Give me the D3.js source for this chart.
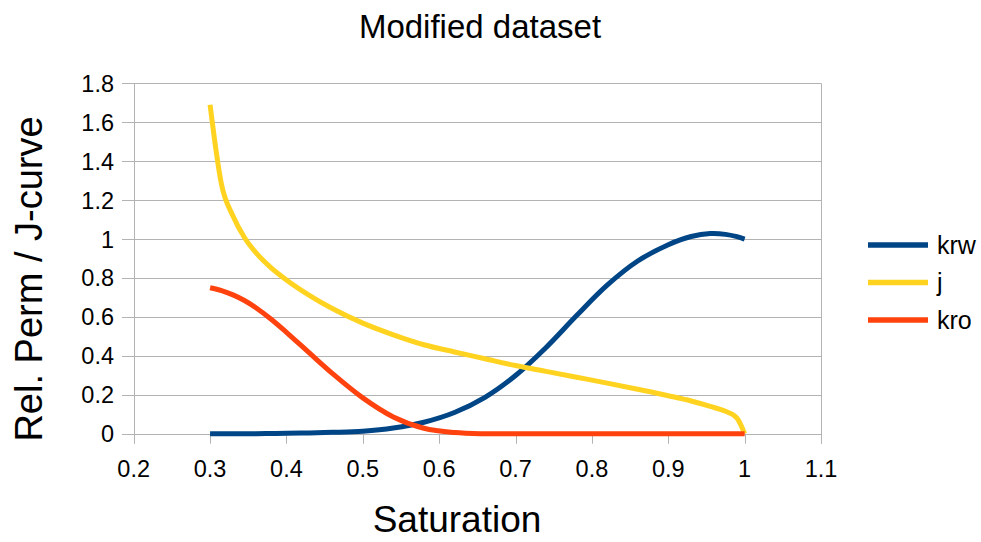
<!DOCTYPE html>
<html>
<head>
<meta charset="utf-8">
<script src="https://cdn.jsdelivr.net/npm/d3@7"></script>
<style>
  body { margin: 0; background: #fff; }
  text { font-family: "Liberation Sans", Arial, sans-serif; fill: #000; }
</style>
</head>
<body>
<svg id="chart" width="981" height="542"></svg>
<script>
// saturation points shared by the three series
var saturation = [0.30, 0.315, 0.33, 0.345, 0.36, 0.38, 0.40, 0.43, 0.46, 0.50, 0.54, 0.58, 0.62,
  0.66, 0.70, 0.74, 0.78, 0.82, 0.86, 0.90, 0.93, 0.955, 0.975, 0.99, 1.00];

var krw = [0, 0, 0, 0, 0, 0.001, 0.002, 0.004, 0.007, 0.013, 0.029, 0.059, 0.109,
  0.187, 0.299, 0.443, 0.607, 0.763, 0.887, 0.971, 1.013, 1.028, 1.024, 1.012, 1.0];

var jcurve = [1.69, 1.28, 1.118, 1.008, 0.93, 0.852, 0.79, 0.711, 0.643, 0.568, 0.508, 0.457, 0.42,
  0.385, 0.35, 0.32, 0.29, 0.26, 0.228, 0.195, 0.168, 0.14, 0.115, 0.08, 0];

var kro = [0.75, 0.735, 0.713, 0.684, 0.647, 0.588, 0.521, 0.415, 0.31, 0.184, 0.086, 0.028, 0.006,
  0, 0, 0, 0, 0, 0, 0, 0, 0, 0, 0, 0];

var seriesNames = ["krw", "j", "kro"];
var seriesColors = ["#004586", "#ffd320", "#ff420e"];
var xTicks = [0.2, 0.3, 0.4, 0.5, 0.6, 0.7, 0.8, 0.9, 1, 1.1];
var yTicks = [0, 0.2, 0.4, 0.6, 0.8, 1, 1.2, 1.4, 1.6, 1.8];

var svg = d3.select("#chart");

var x = d3.scaleLinear().domain([0.2, 1.1]).range([133.7, 821]);
var y = d3.scaleLinear().domain([0, 1.8]).range([433.7, 83.3]);

// horizontal gridlines (they poke out left as tick marks)
svg.append("g")
  .selectAll("line")
  .data(yTicks)
  .enter()
  .append("line")
  .attr("x1", 122)
  .attr("x2", x(1.1))
  .attr("y1", function (d) { return Math.round(y(d)) + 0.5 })
  .attr("y2", function (d) { return Math.round(y(d)) + 0.5 })
  .attr("stroke", "#b3b3b3")
  .attr("stroke-width", 1);

// left axis line and right border
[0.2, 1.1].forEach(function (v) {
  svg.append("line")
    .attr("x1", Math.round(x(v)) + 0.5)
    .attr("x2", Math.round(x(v)) + 0.5)
    .attr("y1", y(1.8))
    .attr("y2", y(0) + 10)
    .attr("stroke", "#b3b3b3");
});

// x tick marks
svg.append("g")
  .selectAll("line")
  .data(xTicks)
  .enter()
  .append("line")
  .attr("x1", function (d) { return Math.round(x(d)) + 0.5 })
  .attr("x2", function (d) { return Math.round(x(d)) + 0.5 })
  .attr("y1", y(0))
  .attr("y2", y(0) + 10)
  .attr("stroke", "#b3b3b3");

// y tick labels
svg.append("g")
  .selectAll("text")
  .data(yTicks)
  .enter()
  .append("text")
  .attr("x", 114)
  .attr("y", function (d) { return y(d) + 8.5 })
  .attr("text-anchor", "end")
  .style("font-size", "23.5px")
  .text(function (d) { return d3.format("")(d) });

// x tick labels
svg.append("g")
  .selectAll("text")
  .data(xTicks)
  .enter()
  .append("text")
  .attr("x", function (d) { return x(d) })
  .attr("y", 477)
  .attr("text-anchor", "middle")
  .style("font-size", "23.5px")
  .text(function (d) { return d3.format("")(d) });

// series lines
var allSeries = [krw, jcurve, kro];
var curves = [d3.curveCatmullRom, d3.curveMonotoneX, d3.curveCatmullRom];

allSeries.forEach(function (vals, i) {
  var line = d3.line()
    .x(function (d, k) { return x(saturation[k]) })
    .y(function (d) { return y(Math.max(0, d)) })
    .curve(curves[i]);
  svg.append("path")
    .datum(vals)
    .attr("d", line)
    .attr("fill", "none")
    .attr("stroke", seriesColors[i])
    .attr("stroke-width", 5)
    .attr("stroke-linejoin", "round");
});

// title
svg.append("text")
  .attr("x", 480)
  .attr("y", 38)
  .attr("text-anchor", "middle")
  .style("font-size", "33px")
  .text("Modified dataset");

// axis titles
svg.append("text")
  .attr("x", 457)
  .attr("y", 532)
  .attr("text-anchor", "middle")
  .style("font-size", "37px")
  .text("Saturation");

svg.append("text")
  .attr("transform", "translate(42,279) rotate(-90)")
  .attr("text-anchor", "middle")
  .style("font-size", "38px")
  .text("Rel. Perm / J-curve");

// legend
var legend = svg.append("g")
  .selectAll("g")
  .data(seriesNames)
  .enter()
  .append("g")
  .attr("transform", function (d, i) { return "translate(868," + (245 + i * 37.5) + ")" });

legend.append("line")
  .attr("x1", 0)
  .attr("x2", 60)
  .attr("stroke", function (d, i) { return seriesColors[i] })
  .attr("stroke-width", 5.5);

legend.append("text")
  .attr("x", 69)
  .attr("y", 8.5)
  .style("font-size", "25px")
  .text(function (d) { return d });
</script>
</body>
</html>
